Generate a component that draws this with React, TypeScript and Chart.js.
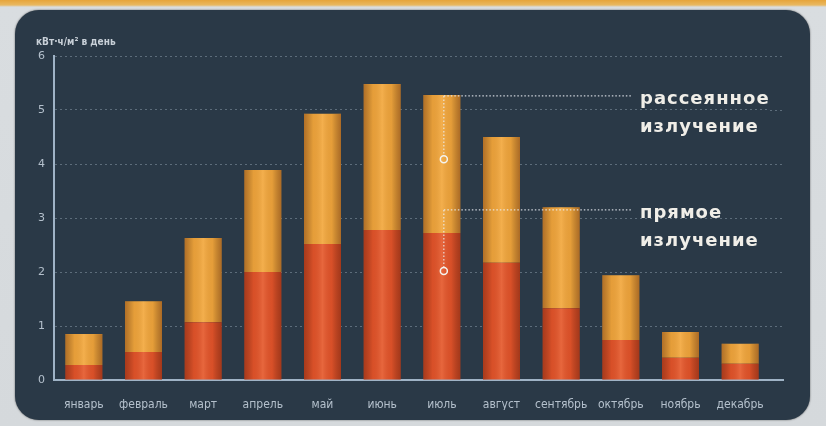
import { useEffect, useRef } from "react";
import { Chart, registerables } from "chart.js";

Chart.register(...registerables);

const months = ["январь", "февраль", "март", "апрель", "май", "июнь", "июль", "август", "сентябрь", "октябрь", "ноябрь", "декабрь"];
const directValues = [0.28, 0.52, 1.07, 2.0, 2.52, 2.78, 2.72, 2.17, 1.33, 0.74, 0.41, 0.3];
const diffuseValues = [0.57, 0.94, 1.56, 1.89, 2.41, 2.7, 2.56, 2.33, 1.87, 1.2, 0.48, 0.37];
const yTicks = [0, 1, 2, 3, 4, 5, 6];
const unitLabel = "кВт·ч/м² в день";
const diffuseText = ["рассеянное", "излучение"];
const directText = ["прямое", "излучение"];
// annotation anchors (month index, data values) for the call-out lines
const calloutMonth = 6;
const diffuseLineValue = 5.26;
const diffuseDotValue = 4.09;
const directLineValue = 3.15;
const directDotValue = 2.02;

export default function App() {
  const ref = useRef<HTMLCanvasElement | null>(null);

  useEffect(() => {
    const canvas = ref.current;
    if (!canvas) return;

    const extend = {
      id: "extend",
      beforeDatasetsDraw(chart: any) {
        const ctx = chart.ctx;
        const ys = chart.scales.y;
        const a = chart.chartArea;
        const ext = 14;
        ctx.save();
        ctx.strokeStyle = "rgba(190,205,220,0.35)";
        ctx.lineWidth = 1;
        ctx.setLineDash([2, 3]);
        yTicks.slice(1).forEach((v) => {
          const y = Math.round(ys.getPixelForValue(v)) + 0.5;
          ctx.beginPath();
          ctx.moveTo(a.right, y);
          ctx.lineTo(a.right + ext, y);
          ctx.stroke();
        });
        ctx.setLineDash([]);
        ctx.strokeStyle = "#9fb3c6";
        ctx.lineWidth = 2;
        ctx.beginPath();
        ctx.moveTo(a.right - 1, Math.round(a.bottom));
        ctx.lineTo(a.right + ext, Math.round(a.bottom));
        ctx.stroke();
        ctx.restore();
      },
    };

    const shading = {
      id: "shading",
      afterDatasetsDraw(chart: any) {
        const ctx = chart.ctx;
        chart.data.datasets.forEach((_: any, di: number) => {
          const meta = chart.getDatasetMeta(di);
          meta.data.forEach((el: any) => {
            const { x, y, base, width } = el.getProps(["x", "y", "base", "width"], true);
            const l = x - width / 2;
            const g = ctx.createLinearGradient(l, 0, l + width, 0);
            g.addColorStop(0, "rgba(60,10,0,0.35)");
            g.addColorStop(0.25, "rgba(0,0,0,0.05)");
            g.addColorStop(0.5, "rgba(255,240,200,0.12)");
            g.addColorStop(0.75, "rgba(0,0,0,0.05)");
            g.addColorStop(1, "rgba(60,10,0,0.38)");
            ctx.save();
            ctx.fillStyle = g;
            ctx.fillRect(l, Math.min(y, base), width, Math.abs(base - y));
            ctx.restore();
          });
        });
      },
    };

    const annotations = {
      id: "annotations",
      afterDraw(chart: any) {
        const ctx = chart.ctx;
        const xs = chart.scales.x;
        const ys = chart.scales.y;
        ctx.save();
        ctx.fillStyle = "#c8d0d8";
        ctx.font = "bold 10px 'DejaVu Sans Condensed', 'DejaVu Sans', sans-serif";
        ctx.textBaseline = "middle";
        ctx.textAlign = "left";
        ctx.fillText(unitLabel, 36, 42);

        const cx = xs.getPixelForValue(calloutMonth) + 2;
        const textX = 640;
        const drawCallout = (lineV: number, dotV: number, lines: string[]) => {
          const ly = ys.getPixelForValue(lineV);
          const dy = ys.getPixelForValue(dotV);
          ctx.strokeStyle = "rgba(235,240,245,0.85)";
          ctx.lineWidth = 1.2;
          ctx.setLineDash([1.5, 2]);
          ctx.beginPath();
          ctx.moveTo(cx, ly);
          ctx.lineTo(textX - 8, ly);
          ctx.moveTo(cx, ly);
          ctx.lineTo(cx, dy - 4);
          ctx.stroke();
          ctx.setLineDash([]);
          ctx.beginPath();
          ctx.arc(cx, dy, 3.5, 0, Math.PI * 2);
          ctx.lineWidth = 1.5;
          ctx.strokeStyle = "#f4f4f0";
          ctx.stroke();
          ctx.fillStyle = "#f0eee8";
          ctx.font = "bold 18px 'DejaVu Sans', sans-serif";
          (ctx as any).letterSpacing = "1px";
          ctx.textBaseline = "middle";
          lines.forEach((t, i) => ctx.fillText(t, textX, ly + 3 + i * 28));
          (ctx as any).letterSpacing = "0px";
        };
        drawCallout(diffuseLineValue, diffuseDotValue, diffuseText);
        drawCallout(directLineValue, directDotValue, directText);
        ctx.restore();
      },
    };

    const chart = new Chart(canvas, {
      type: "bar",
      data: {
        labels: months,
        datasets: [
          {
            label: "прямое излучение",
            data: directValues,
            backgroundColor: "#e4542a",
            borderWidth: 0,
            barPercentage: 0.62,
            categoryPercentage: 1,
          },
          {
            label: "рассеянное излучение",
            data: diffuseValues,
            backgroundColor: "#f2a63c",
            borderWidth: 0,
            barPercentage: 0.62,
            categoryPercentage: 1,
          },
        ],
      },
      options: {
        animation: false,
        responsive: false,
        maintainAspectRatio: false,
        layout: { padding: { left: 34, top: 56, right: 56, bottom: 16 } },
        plugins: { legend: { display: false }, tooltip: { enabled: false } },
        scales: {
          x: {
            stacked: true,
            grid: { display: false },
            border: { display: true, color: "#9fb3c6", width: 2 },
            ticks: {
              color: "#b4c0cc",
              font: { family: "'DejaVu Sans Condensed', 'DejaVu Sans', sans-serif", size: 12 },
              padding: 10,
              maxRotation: 0,
              autoSkip: false,
            },
            afterFit: (s: any) => {
              s.height = 30;
            },
          },
          y: {
            stacked: true,
            min: 0,
            max: 6,
            afterBuildTicks: (s: any) => {
              s.ticks = yTicks.map((v) => ({ value: v }));
            },
            grid: {
              color: "rgba(190,205,220,0.35)",
              lineWidth: 1,
              drawTicks: false,
            },
            border: { display: true, color: "#9fb3c6", width: 2, dash: [2, 3] },
            ticks: {
              color: "#b4c0cc",
              font: { family: "'DejaVu Sans', sans-serif", size: 11 },
              padding: 9,
            },
            afterFit: (s: any) => {
              s.width = 20;
            },
          },
        },
      },
      plugins: [extend, shading, annotations],
    } as any);

    return () => chart.destroy();
  }, []);

  return (
    <div
      style={{
        position: "fixed",
        left: 0,
        top: 0,
        width: 826,
        height: 426,
        background: "linear-gradient(#e6a43a 0px, #e9b860 5px, #d9dde0 7px, #d5d9dc 100%)",
        overflow: "hidden",
      }}
    >
      <div
        style={{
          position: "absolute",
          left: 15,
          top: 10,
          width: 795,
          height: 410,
          borderRadius: 24,
          background: "#2a3947",
          boxShadow: "0 0 2px rgba(0,0,0,0.6)",
        }}
      />
      <canvas ref={ref} width={826} height={426} style={{ position: "absolute", left: 0, top: 0 }} />
    </div>
  );
}
